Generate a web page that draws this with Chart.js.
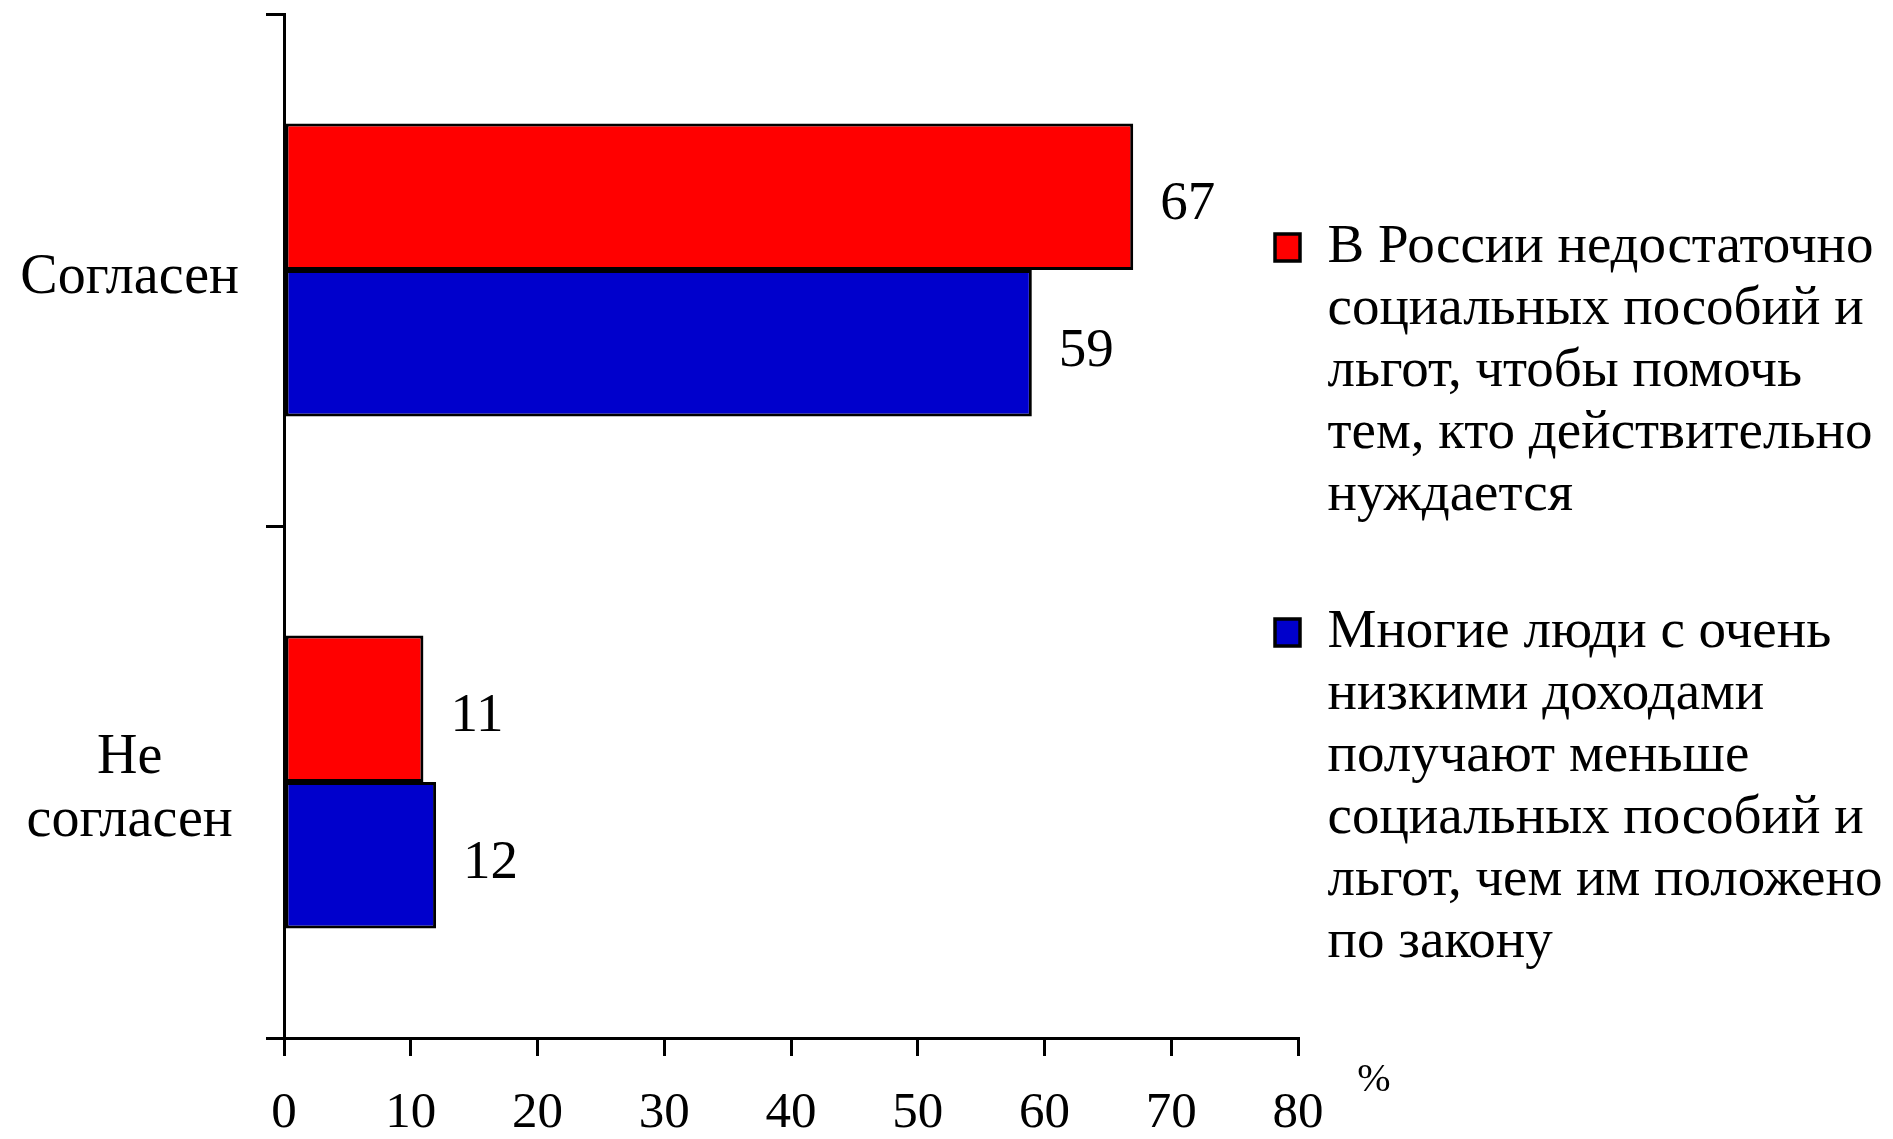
<!DOCTYPE html>
<html>
<head>
<meta charset="utf-8">
<script src="https://cdn.jsdelivr.net/npm/chart.js@4.4.1/dist/chart.umd.min.js"></script>
<style>
  html, body { margin: 0; padding: 0; background: #ffffff; }
  #wrap { width: 1893px; height: 1139px; position: relative; }
</style>
</head>
<body>
<div id="wrap"><canvas id="c"></canvas></div>
<script>
// ---- data ----
const categories = ['Согласен', ['Не', 'согласен']];
const seriesNames = [
  'В России недостаточно социальных пособий и льгот, чтобы помочь тем, кто действительно нуждается',
  'Многие люди с очень низкими доходами получают меньше социальных пособий и льгот, чем им положено по закону'
];
const seriesLegendLines = [
  ['В России недостаточно', 'социальных пособий и', 'льгот, чтобы помочь', 'тем, кто действительно', 'нуждается'],
  ['Многие люди с очень', 'низкими доходами', 'получают меньше', 'социальных пособий и', 'льгот, чем им положено', 'по закону']
];
const seriesA = [67, 11];
const seriesB = [59, 12];
const xMin = 0, xMax = 80, xStep = 10;
const unitLabel = '%';

const FONT = '"Liberation Serif", "Times New Roman", serif';

const valueLabels = {
  id: 'valueLabels',
  afterDatasetsDraw(chart) {
    const ctx = chart.ctx;
    ctx.save();
    ctx.font = '55px ' + FONT;
    ctx.fillStyle = '#000';
    ctx.textAlign = 'left';
    ctx.textBaseline = 'middle';
    chart.data.datasets.forEach((ds, di) => {
      const meta = chart.getDatasetMeta(di);
      meta.data.forEach((bar, i) => {
        const p = bar.getProps(['x', 'y'], true);
        ctx.fillText(String(ds.data[i]), p.x + 27, p.y + 8);
      });
    });
    const xs = chart.scales.x;
    ctx.font = '40px ' + FONT;
    ctx.textAlign = 'center';
    ctx.fillText(unitLabel, xs.right + 76, xs.top + 42);
    ctx.restore();
  }
};

const legendPlace = {
  id: 'legendPlace',
  afterLayout(chart) {
    const lg = chart.legend;
    if (!lg) return;
    const pad = lg.options.labels.padding;
    const w = lg.width;
    lg.left = chart.chartArea.right - 23 - pad;
    lg.top = chart.chartArea.top + 206 - pad;
    lg.right = lg.left + w;
    lg.bottom = chart.height;
  }
};

new Chart(document.getElementById('c'), {
  type: 'bar',
  data: {
    labels: categories,
    datasets: [
      { label: seriesNames[0], data: seriesA, backgroundColor: '#FF0000', borderColor: '#000000', borderWidth: 3, borderSkipped: false },
      { label: seriesNames[1], data: seriesB, backgroundColor: '#0000CC', borderColor: '#000000', borderWidth: 3, borderSkipped: false }
    ]
  },
  options: {
    indexAxis: 'y',
    responsive: true,
    maintainAspectRatio: false,
    animation: false,
    devicePixelRatio: 1,
    categoryPercentage: 0.572,
    barPercentage: 1.0,
    layout: { padding: { left: 0, right: 595, top: 14, bottom: 0 } },
    scales: {
      x: {
        min: xMin, max: xMax,
        ticks: { stepSize: xStep, color: '#000', padding: 27, font: { family: FONT, size: 51 } },
        grid: { drawOnChartArea: false, drawTicks: true, color: '#000', lineWidth: 3, tickLength: 18 },
        border: { display: true, color: '#000', width: 3 },
        afterFit(scale) { scale.height = 101; scale.paddingLeft = 0; scale.paddingRight = 0; }
      },
      y: {
        ticks: { color: '#000', padding: 27, crossAlign: 'center', labelOffset: 8, font: { family: FONT, size: 56, lineHeight: 1.13 } },
        grid: { drawOnChartArea: false, drawTicks: true, color: '#000', lineWidth: 3, tickLength: 18 },
        border: { display: true, color: '#000', width: 3 },
        afterFit(scale) { scale.width = 284; scale.paddingTop = 0; scale.paddingBottom = 0; }
      }
    },
    plugins: {
      tooltip: { enabled: false },
      legend: {
        position: 'chartArea',
        align: 'start',
        labels: {
          color: '#000',
          boxWidth: 25,
          boxHeight: 27,
          padding: 75,
          font: { family: FONT, size: 55, lineHeight: 1.127 },
          generateLabels(chart) {
            const items = Chart.defaults.plugins.legend.labels.generateLabels(chart);
            items.forEach((it, i) => { it.text = seriesLegendLines[i]; it.lineWidth = 3.5; });
            return items;
          }
        }
      }
    }
  },
  plugins: [valueLabels, legendPlace]
});
</script>
</body>
</html>
